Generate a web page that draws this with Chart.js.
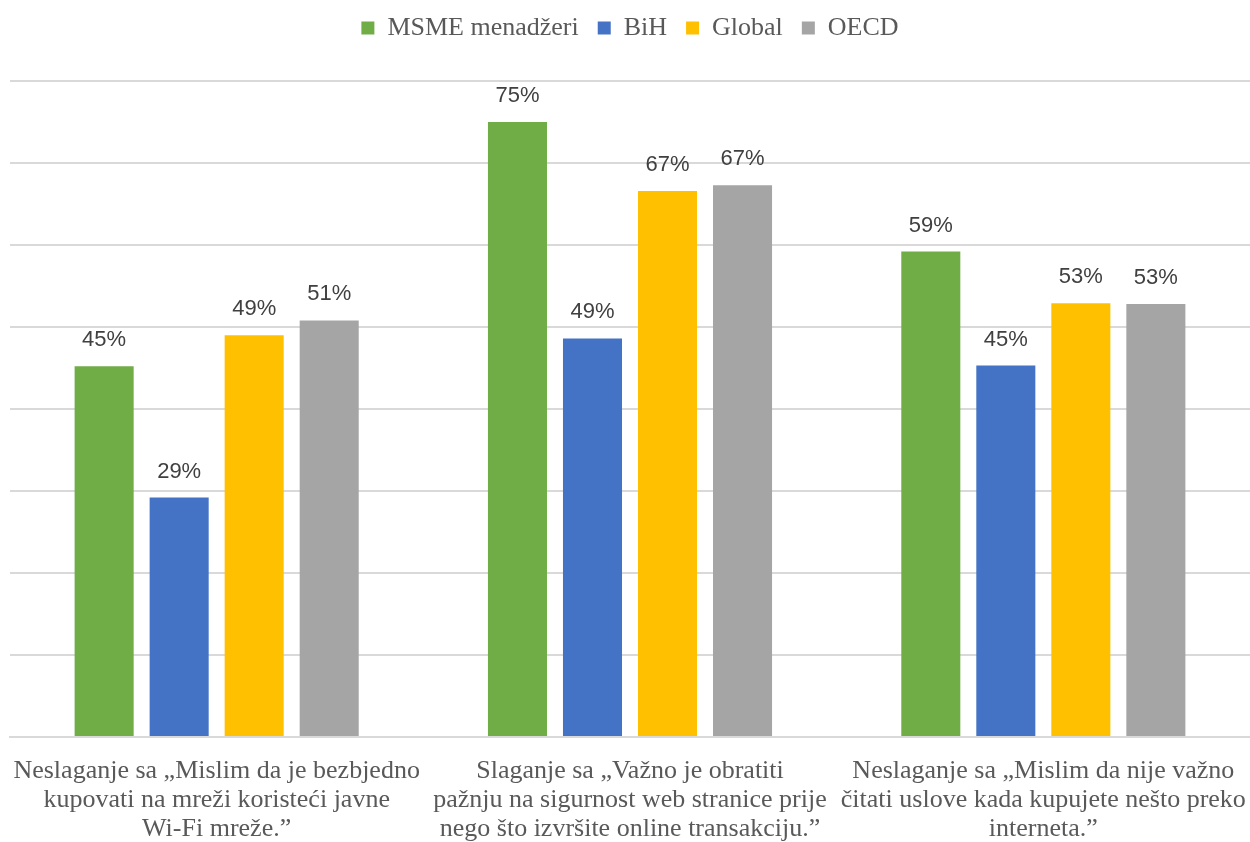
<!DOCTYPE html>
<html>
<head>
<meta charset="utf-8">
<script src="https://cdn.jsdelivr.net/npm/chart.js@4/dist/chart.umd.min.js"></script>
<style>
  html, body { margin: 0; padding: 0; background: #fff; }
  #wrap { width: 1250px; height: 842px; }
</style>
</head>
<body>
<div id="wrap"><canvas id="c" width="1250" height="842"></canvas></div>
<script>
// categories (x axis, split into lines)
const categories = [
    ['Neslaganje sa \u201EMislim da je bezbjedno', 'kupovati na mreži koristeći javne', 'Wi-Fi mreže.\u201D'],
    ['Slaganje sa \u201EVažno je obratiti', 'pažnju na sigurnost web stranice prije', 'nego što izvršite online transakciju.\u201D'],
    ['Neslaganje sa \u201EMislim da nije važno', 'čitati uslove kada kupujete nešto preko', 'interneta.\u201D']
];

const seriesNames = ['MSME menadžeri', 'BiH', 'Global', 'OECD'];
const seriesColors = ['#70AD47', '#4472C4', '#FFC000', '#A5A5A5'];

// values in %
const msme   = [45.2, 75.0, 59.2];
const bih    = [29.2, 48.6, 45.3];
const global = [49.0, 66.6, 52.9];
const oecd   = [50.8, 67.3, 52.8];

const yMax = 80;
const yStep = 10;

const serif = '"Liberation Serif", "Times New Roman", serif';

const valueLabels = {
    id: 'valueLabels',
    afterDatasetsDraw(chart) {
        const ctx = chart.ctx;
        ctx.save();
        ctx.font = '22px "Liberation Sans", Arial, sans-serif';
        ctx.fillStyle = '#404040';
        ctx.textAlign = 'center';
        ctx.textBaseline = 'alphabetic';
        chart.data.datasets.forEach((ds, i) => {
            chart.getDatasetMeta(i).data.forEach((bar, j) => {
                ctx.fillText(Math.round(ds.data[j]) + '%', bar.x, bar.y - 20);
            });
        });
        ctx.restore();
    }
};

// extra space below the legend
const legendGap = {
    id: 'legendGap',
    beforeInit(chart) {
        const fit = chart.legend.fit;
        chart.legend.fit = function () {
            fit.bind(chart.legend)();
            this.height += 30;
        };
    }
};

const allSeries = [msme, bih, global, oecd];
const datasets = allSeries.map((d, i) => ({
    label: seriesNames[i],
    data: d,
    backgroundColor: seriesColors[i],
    borderWidth: 0,
    categoryPercentage: 0.726,
    barPercentage: 0.787
}));

new Chart(document.getElementById('c'), {
    type: 'bar',
    data: { labels: categories, datasets },
    plugins: [valueLabels, legendGap],
    options: {
        responsive: false,
        animation: false,
        layout: { padding: { left: 10, right: 0, top: -4, bottom: -2 } },
        plugins: {
            legend: {
                position: 'top',
                labels: {
                    color: '#595959',
                    font: { family: serif, size: 26 },
                    boxWidth: 13,
                    boxHeight: 13,
                    padding: 19
                }
            },
            tooltip: { enabled: false }
        },
        scales: {
            x: {
                // tick marks hidden, tickLength only used as label offset
                grid: { display: false, drawTicks: true, tickLength: 20 },
                border: { color: '#D9D9D9', width: 2 },
                ticks: {
                    color: '#595959',
                    font: { family: serif, size: 26, lineHeight: 1.115 },
                    maxRotation: 0,
                    autoSkip: false,
                    padding: 0
                }
            },
            y: {
                min: 0,
                max: yMax,
                ticks: { stepSize: yStep, display: false },
                grid: { color: '#D9D9D9', lineWidth: 2, drawTicks: false },
                border: { display: false }
            }
        }
    }
});
</script>
</body>
</html>
